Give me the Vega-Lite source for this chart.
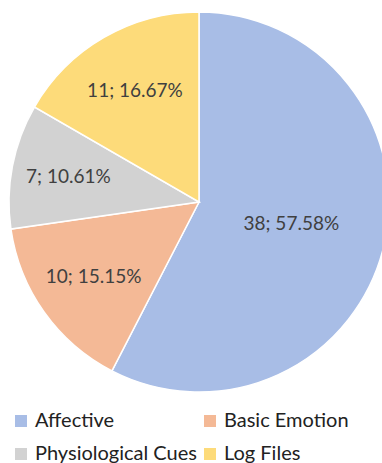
{
  "$schema": "https://vega.github.io/schema/vega-lite/v6.json",
  "width": 398,
  "height": 404,
  "padding": 0,
  "autosize": {"type": "pad"},
  "background": "white",
  "config": {"view": {"stroke": null}},
  "data": {
    "values": [
      {"category": "Affective", "count": 38, "rank": 1},
      {"category": "Basic Emotion", "count": 10, "rank": 2},
      {"category": "Physiological Cues", "count": 7, "rank": 3},
      {"category": "Log Files", "count": 11, "rank": 4}
    ]
  },
  "transform": [
    {"joinaggregate": [{"op": "sum", "field": "count", "as": "total"}]},
    {"calculate": "datum.count + '; ' + format(datum.count / datum.total, '.2%')", "as": "label"}
  ],
  "encoding": {
    "theta": {"field": "count", "type": "quantitative", "stack": true},
    "order": {"field": "rank", "type": "quantitative", "sort": "ascending"},
    "color": {
      "field": "category",
      "type": "nominal",
      "scale": {
        "domain": ["Affective", "Basic Emotion", "Physiological Cues", "Log Files"],
        "range": ["#a8bde6", "#f4b996", "#d2d2d2", "#fddb7a"]
      },
      "legend": {
        "orient": "none",
        "legendX": 11,
        "legendY": 411,
        "direction": "horizontal",
        "columns": 2,
        "title": null,
        "symbolType": "square",
        "symbolSize": 144,
        "symbolStrokeWidth": 0,
        "symbolOpacity": 1,
        "labelFont": "Lato",
        "labelFontSize": 20,
        "labelColor": "#222222",
        "labelOffset": 4,
        "columnPadding": 3,
        "rowPadding": 13,
        "padding": 0,
        "labelLimit": 0
      }
    }
  },
  "layer": [
    {"mark": {"type": "arc", "radius": 190, "stroke": "white", "strokeWidth": 1.5}},
    {
      "mark": {"type": "text", "font": "Lato", "fontSize": 19},
      "encoding": {
        "text": {"field": "label"},
        "color": {"value": "#404040"},
        "radius": {
          "field": "count",
          "type": "quantitative",
          "scale": {"type": "linear", "zero": false, "domain": [7, 38], "range": [133, 95]}
        }
      }
    }
  ]
}
